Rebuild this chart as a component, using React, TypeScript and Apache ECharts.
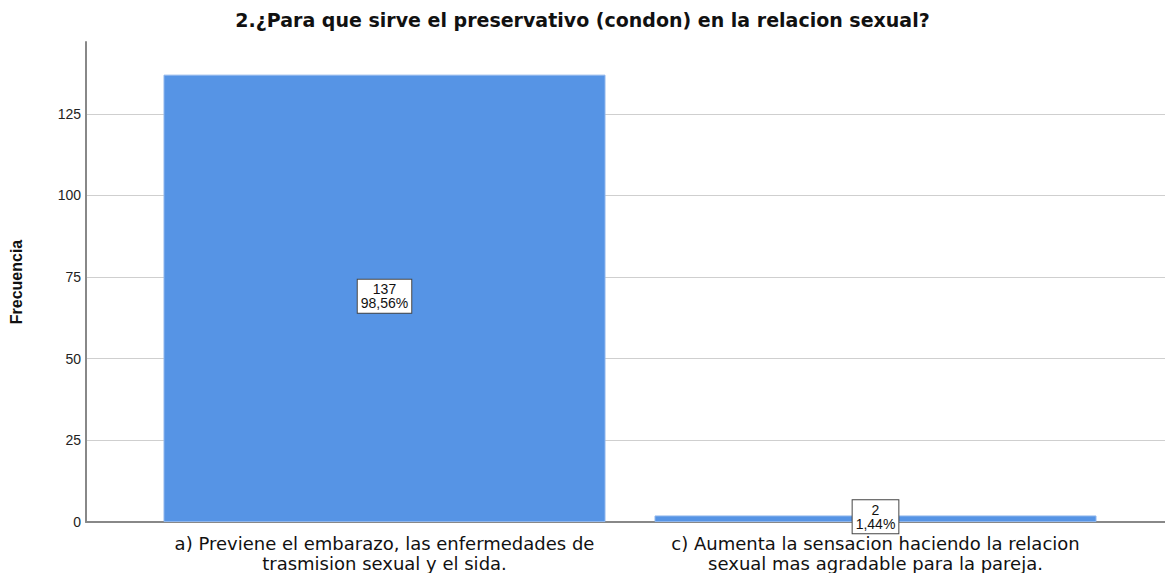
import React, { useEffect, useRef } from "react";
import * as echarts from "echarts";

const title = "2.¿Para que sirve el preservativo (condon) en la relacion sexual?";
const categories = [
  "a) Previene el embarazo, las enfermedades de\ntrasmision sexual y el sida.",
  "c) Aumenta la sensacion haciendo la relacion\nsexual mas agradable para la pareja.",
];
const counts = [137, 2];
const percents = ["98,56%", "1,44%"];
const yName = "Frecuencia";

export default function App() {
  const ref = useRef<HTMLDivElement>(null);
  useEffect(() => {
    document.body.style.margin = "0";
    const chart = echarts.init(ref.current!, null, { renderer: "svg" });
    const font = "Liberation Sans, Arial, sans-serif";
    const wide = "DejaVu Sans, Verdana, sans-serif";
    chart.setOption({
      animation: false,
      backgroundColor: "#ffffff",
      textStyle: { fontFamily: font },
      title: {
        text: title,
        left: "center",
        top: 5,
        textStyle: { fontSize: 19, fontWeight: "bold", color: "#111", fontFamily: wide },
      },
      grid: [
        { left: 84, right: 0, top: 42, bottom: 51 },
        { left: 139, right: 44, top: 42, bottom: 51 },
      ],
      xAxis: [
        {
          type: "value",
          gridIndex: 0,
          min: 0,
          max: 1,
          axisLine: { show: true, lineStyle: { color: "#888", width: 2 } },
          axisTick: { show: false },
          axisLabel: { show: false },
          splitLine: { show: false },
        },
        {
          type: "category",
          gridIndex: 1,
          data: categories,
          axisLine: { show: false },
          axisTick: { show: false },
          axisLabel: {
            interval: 0,
            fontSize: 18,
            lineHeight: 20,
            color: "#111",
            margin: 11,
            fontFamily: wide,
          },
        },
      ],
      yAxis: [
        {
          type: "value",
          gridIndex: 0,
          min: 0,
          max: 147,
          interval: 25,
          name: yName,
          nameLocation: "middle",
          nameGap: 62,
          nameTextStyle: { fontSize: 16, fontWeight: "bold", color: "#111", fontFamily: font },
          axisLine: { show: true, lineStyle: { color: "#888", width: 2 } },
          axisTick: { show: false },
          axisLabel: { showMaxLabel: false, fontSize: 14, color: "#222", margin: 5, fontFamily: font },
          splitLine: { show: true, showMaxLine: false, showMinLine: false, lineStyle: { color: "#cfcfcf", width: 1 } },
        },
        {
          type: "value",
          gridIndex: 1,
          min: 0,
          max: 147,
          show: false,
          splitLine: { show: false },
        },
      ],
      series: [
        {
          type: "bar",
          xAxisIndex: 1,
          yAxisIndex: 1,
          data: counts,
          barWidth: 442,
          itemStyle: { color: "#5694e5", borderColor: "#8fb6ec", borderWidth: 1 },
          label: {
            show: true,
            position: "inside",
            offset: [0, -2],
            formatter: (p: any) => `${counts[p.dataIndex]}\n${percents[p.dataIndex]}`,
            backgroundColor: "#ffffff",
            borderColor: "#444",
            borderWidth: 1,
            padding: [3, 3, 2, 3],
            fontSize: 14,
            lineHeight: 14,
            color: "#111",
            fontFamily: font,
          },
        },
      ],
    });
    return () => chart.dispose();
  }, []);
  return <div ref={ref} style={{ width: 1165, height: 573 }} />;
}
